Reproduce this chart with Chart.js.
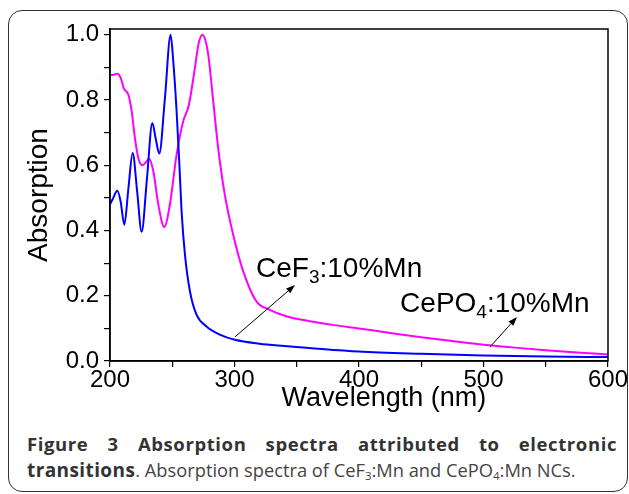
<!DOCTYPE html>
<html>
<head>
<meta charset="utf-8">
<script src="https://cdn.jsdelivr.net/npm/chart.js@4.4.1/dist/chart.umd.min.js"></script>
<style>
  html, body { margin:0; padding:0; background:#fff; }
  body { width:629px; height:494px; position:relative; overflow:hidden; }
  #frame { position:absolute; left:8px; top:10px; width:620px; height:482px; border:1.6px solid #333; border-radius:14px; box-sizing:border-box; }
  #wrap { position:absolute; left:0; top:0; width:629px; height:414px; }
  #cap { position:absolute; left:27px; top:431px; width:590px; font-family:"Open Sans", sans-serif; color:#333; }
  #cap .l1 { font-weight:bold; font-size:18.5px; text-align:justify; text-align-last:justify; white-space:nowrap; line-height:26px; letter-spacing:0.6px; }
  #cap .l2 { font-size:18.3px; line-height:26px; color:#444; white-space:nowrap; letter-spacing:0px; }
  #cap .l2 b { font-size:19px; color:#333; letter-spacing:0.4px; }
  #cap sub { font-size:11.5px; vertical-align:-3px; line-height:0; }
</style>
</head>
<body>
<div id="frame"></div>
<div id="wrap"><canvas id="c" width="629" height="414"></canvas></div>
<div id="cap">
  <div class="l1">Figure 3 Absorption spectra attributed to electronic</div>
  <div class="l2"><b>transitions</b>. Absorption spectra of CeF<sub>3</sub>:Mn and CePO<sub>4</sub>:Mn NCs.</div>
</div>
<script>
// ---- Data ----
const cef3Wavelength = [200, 202, 205.9, 208.5, 211.5, 214.8, 218.2, 221.8, 225.4, 229.7, 234, 236.8, 239.6, 244, 248.7, 250.8, 253.5, 255.6, 257.5, 260.2, 264.2, 269.5, 277.5, 288.2, 300.3, 320, 340, 360, 400, 450, 500, 550, 600];
const cef3Absorption = [0.48, 0.495, 0.522, 0.49, 0.418, 0.53, 0.638, 0.52, 0.396, 0.56, 0.730, 0.68, 0.636, 0.80, 1.0, 0.92, 0.766, 0.612, 0.459, 0.326, 0.214, 0.142, 0.106, 0.081, 0.065, 0.053, 0.046, 0.040, 0.029, 0.022, 0.017, 0.014, 0.012];

const cepo4Wavelength = [200, 203, 205.9, 208.6, 211.2, 214.7, 217.4, 220, 222.7, 225.9, 228.5, 231.3, 234.8, 238.8, 243.6, 248.1, 253.5, 258.8, 263.4, 268.2, 271, 274.1, 276.5, 278.9, 282.9, 286.9, 292.2, 298.9, 307, 317.6, 328.3, 341.7, 360.4, 380, 400, 425, 450, 475, 500, 525, 550, 575, 600];
const cepo4Absorption = [0.876, 0.878, 0.881, 0.868, 0.835, 0.817, 0.766, 0.684, 0.623, 0.600, 0.608, 0.620, 0.582, 0.480, 0.411, 0.480, 0.633, 0.735, 0.786, 0.899, 0.97, 1.0, 0.985, 0.94, 0.797, 0.653, 0.510, 0.388, 0.275, 0.183, 0.157, 0.137, 0.122, 0.110, 0.100, 0.086, 0.073, 0.061, 0.050, 0.041, 0.033, 0.026, 0.020];

const xTickLabels = ["200", "300", "400", "500", "600"];
const yTickLabels = ["0.0", "0.2", "0.4", "0.6", "0.8", "1.0"];
const xTitle = "Wavelength (nm)";
const xTitleCenter = 420; // wavelength under which the x title is centred
const yTitle = "Absorption";

// Annotation labels: [main, subscript, rest], anchor in data units (wavelength, absorption)
const labelTexts = [["CeF", "3", ":10%Mn"], ["CePO", "4", ":10%Mn"]];
const labelAnchors = [[317.3, 0.258], [433, 0.150]];
// Arrows: from (wavelength, absorption) to (wavelength, absorption)
const arrowFrom = [[300.4, 0.074], [505.2, 0.043]];
const arrowTo = [[348.6, 0.233], [526.9, 0.135]];

const FONT = '"Liberation Sans", Arial, Helvetica, sans-serif';

const toPts = (xs, ys) => xs.map((x, i) => ({x: x, y: ys[i]}));

const framePlugin = {
  id: 'frame',
  afterDraw(chart) {
    const {ctx, chartArea: a} = chart;
    ctx.save();
    ctx.strokeStyle = '#000';
    ctx.lineWidth = 1.5;
    ctx.strokeRect(a.left, a.top, a.right - a.left, a.bottom - a.top);
    ctx.restore();
  }
};

const annotPlugin = {
  id: 'annot',
  afterDraw(chart) {
    const {ctx} = chart;
    const xs = chart.scales.x, ys = chart.scales.y;
    ctx.save();
    // x axis title (shifted right as in the original)
    ctx.fillStyle = '#000';
    ctx.font = '27px ' + FONT;
    ctx.textAlign = 'center';
    ctx.textBaseline = 'middle';
    ctx.fillText(xTitle, xs.getPixelForValue(xTitleCenter), xs.top + 38);
    // arrows
    ctx.strokeStyle = '#000';
    ctx.lineWidth = 1;
    arrowFrom.forEach((f, i) => {
      const x1 = xs.getPixelForValue(f[0]), y1 = ys.getPixelForValue(f[1]);
      const x2 = xs.getPixelForValue(arrowTo[i][0]), y2 = ys.getPixelForValue(arrowTo[i][1]);
      const ang = Math.atan2(y2 - y1, x2 - x1);
      const L = 9, W = 3.2;
      ctx.beginPath();
      ctx.moveTo(x1, y1);
      ctx.lineTo(x2 - L * Math.cos(ang), y2 - L * Math.sin(ang));
      ctx.stroke();
      ctx.beginPath();
      ctx.moveTo(x2, y2);
      ctx.lineTo(x2 - L * Math.cos(ang) - W * Math.sin(ang), y2 - L * Math.sin(ang) + W * Math.cos(ang));
      ctx.lineTo(x2 - L * Math.cos(ang) + W * Math.sin(ang), y2 - L * Math.sin(ang) - W * Math.cos(ang));
      ctx.closePath();
      ctx.fill();
    });
    // labels
    ctx.textBaseline = 'alphabetic';
    ctx.textAlign = 'left';
    labelTexts.forEach((t, i) => {
      let x = xs.getPixelForValue(labelAnchors[i][0]);
      const y = ys.getPixelForValue(labelAnchors[i][1]);
      ctx.font = '28px ' + FONT;
      ctx.fillText(t[0], x, y);
      x += ctx.measureText(t[0]).width;
      ctx.font = '19px ' + FONT;
      ctx.fillText(t[1], x, y + 6);
      x += ctx.measureText(t[1]).width;
      ctx.font = '28px ' + FONT;
      ctx.fillText(t[2], x, y);
    });
    ctx.restore();
  }
};

new Chart(document.getElementById('c'), {
  type: 'line',
  data: {
    datasets: [
      { label: 'CeF3:10%Mn', data: toPts(cef3Wavelength, cef3Absorption), borderColor: '#0000ff', borderWidth: 2, pointRadius: 0, cubicInterpolationMode: 'monotone', fill: false },
      { label: 'CePO4:10%Mn', data: toPts(cepo4Wavelength, cepo4Absorption), borderColor: '#ff00ff', borderWidth: 2, pointRadius: 0, cubicInterpolationMode: 'monotone', fill: false }
    ]
  },
  options: {
    responsive: false,
    animation: false,
    events: [],
    layout: { padding: { top: 29, right: 21, left: 0, bottom: 0 } },
    plugins: { legend: { display: false }, tooltip: { enabled: false }, title: { display: false } },
    scales: {
      x: {
        type: 'linear', min: 200, max: 600,
        afterFit(s) { s.height = 53; },
        border: { display: true, color: '#000', width: 1.5 },
        grid: { drawOnChartArea: false, drawTicks: true, tickLength: 6, color: '#000', lineWidth: 1.2 },
        ticks: {
          stepSize: 50, padding: -1, color: '#000',
          font: { family: FONT, size: 24 },
          maxRotation: 0, autoSkip: false,
          callback(v) { const s = String(v); return xTickLabels.includes(s) ? s : ''; }
        },
        title: { display: false }
      },
      y: {
        type: 'linear', min: 0, max: 1.018,
        afterFit(s) { s.width = 110; },
        border: { display: true, color: '#000', width: 1.5 },
        grid: { drawOnChartArea: false, drawTicks: true, tickLength: 6, color: '#000', lineWidth: 1.2 },
        ticks: {
          stepSize: 0.1, includeBounds: false, padding: 5, color: '#000',
          font: { family: FONT, size: 24 },
          autoSkip: false,
          callback(v) { const s = Number(v).toFixed(1); return yTickLabels.includes(s) ? s : ''; }
        },
        title: { display: true, text: yTitle, color: '#000', font: { family: FONT, size: 28 }, padding: { top: 22, bottom: 0 } }
      }
    }
  },
  plugins: [framePlugin, annotPlugin]
});
</script>
</body>
</html>
